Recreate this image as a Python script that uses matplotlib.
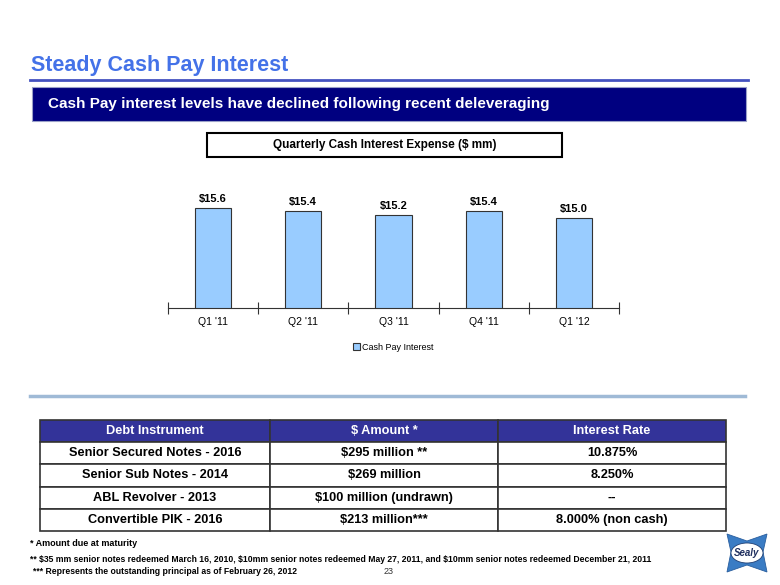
import matplotlib
matplotlib.use("Agg")
import matplotlib.pyplot as plt
from matplotlib.patches import Rectangle, Polygon, Ellipse

plt.rcParams['font.family'] = ['Liberation Sans', 'DejaVu Sans']

# chart data
quarters = ["Q1 '11", "Q2 '11", "Q3 '11", "Q4 '11", "Q1 '12"]
cash_interest = [15.6, 15.4, 15.2, 15.4, 15.0]
bar_labels = ["$15.6", "$15.4", "$15.2", "$15.4", "$15.0"]

# table data
col_labels = ["Debt Instrument", "$ Amount *", "Interest Rate"]
instruments = ["Senior Secured Notes - 2016", "Senior Sub Notes - 2014",
               "ABL Revolver - 2013", "Convertible PIK - 2016"]
amounts = ["$295 million **", "$269 million", "$100 million (undrawn)", "$213 million***"]
rates = ["10.875%", "8.250%", "--", "8.000% (non cash)"]

notes = ["* Amount due at maturity",
         "** $35 mm senior notes redeemed March 16, 2010, $10mm senior notes redeemed May 27, 2011, "
         "and $10mm senior notes redeemed December 21, 2011",
         "*** Represents the outstanding principal as of February 26, 2012"]

W, H = 780, 585
fig = plt.figure(figsize=(7.8, 5.85), dpi=100)


def box(x0, y0, x1, y1):
    # pixel box (top-left origin) -> figure fraction rect
    return [x0 / W, 1 - y1 / H, (x1 - x0) / W, (y1 - y0) / H]


# page decorations
bg = fig.add_axes([0, 0, 1, 1])
bg.set_xlim(0, W)
bg.set_ylim(H, 0)
bg.axis('off')

bg.text(31, 66, "Steady Cash Pay Interest", color="#4472E8", fontsize=15.5,
        fontweight='bold', va='center', ha='left')
bg.plot([30, 748], [80, 80], color="#4452C0", lw=2)
bg.add_patch(Rectangle((32, 87), 714, 34, facecolor="#000080", edgecolor="#9AA0C8", lw=0.8))
bg.text(48, 104, "Cash Pay interest levels have declined following recent deleveraging",
        color="white", fontsize=11, fontweight='bold', va='center', ha='left')
bg.add_patch(Rectangle((207, 133), 355, 24, facecolor="white", edgecolor="black", lw=1.5))
bg.text(384.5, 145, "Quarterly Cash Interest Expense ($ mm)", fontsize=8.5,
        fontweight='bold', va='center', ha='center')
bg.plot([30, 745], [396, 396], color="#9FBAD6", lw=2.5)

for i, t in enumerate(notes):
    bg.text(30 if i < 2 else 33, [544, 560, 571][i], t, fontsize=6.2 if i else 6.5,
            fontweight='bold', va='center', ha='left')
bg.text(389, 571, "23", fontsize=6.5, va='center', ha='center', color="#333333")

# logo (bow-tie with oval badge)
bg.add_patch(Polygon([(727, 534), (747, 541), (767, 534), (763, 552), (767, 572),
                      (747, 565), (727, 572), (731, 552)], closed=True,
                     facecolor="#3A7CC4", edgecolor="#2A5E9E", lw=0.6))
bg.add_patch(Ellipse((747, 553), 32, 20, facecolor="white", edgecolor="#1F3F73", lw=0.6))
bg.text(747, 553, "Sealy", color="#1F2F5F", fontsize=7, fontweight='bold', style='italic',
        ha='center', va='center')

# bar chart
ax = fig.add_axes(box(168, 185, 619, 307.7))
x = range(len(quarters))
bars = ax.bar(x, cash_interest, width=0.4, color="#99CCFF", edgecolor="#333333",
              lw=0.8, label="Cash Pay Interest")
ax.set_xlim(-0.5, len(quarters) - 0.5)
ax.set_ylim(9.55, 17.0)
for b, lab in zip(bars, bar_labels):
    ax.text(b.get_x() + b.get_width() / 2, b.get_height() + 0.25, lab, ha='center',
            va='bottom', fontsize=8, fontweight='bold')
for s in ['top', 'right', 'left']:
    ax.spines[s].set_visible(False)
ax.spines['bottom'].set_color("#333333")
ax.set_yticks([])
ax.set_xticks([i - 0.5 for i in range(len(quarters) + 1)], minor=False)
ax.set_xticklabels([])
ax.tick_params(axis='x', length=8, direction='inout', color="#333333")
ax.set_xticks(list(x), minor=True)
ax.set_xticklabels(quarters, minor=True, fontsize=7.5)
ax.tick_params(axis='x', which='minor', length=0, pad=7)
ax.legend(loc='upper center', bbox_to_anchor=(0.5, -0.22), frameon=False, fontsize=6.5,
          handlelength=0.7, handleheight=0.7, handletextpad=0.3)

# debt table
tax = fig.add_axes(box(40, 420, 726, 531))
tax.axis('off')
rows = [list(r) for r in zip(instruments, amounts, rates)]
tbl = tax.table(cellText=rows, colLabels=col_labels, cellLoc='center',
                bbox=[0, 0, 1, 1], colWidths=[230, 228, 228])
tbl.auto_set_font_size(False)
for (r, c), cell in tbl.get_celld().items():
    cell.set_edgecolor("#333333")
    cell.set_linewidth(1.2)
    cell.get_text().set_fontsize(9.2)
    cell.get_text().set_fontweight('bold')
    if r == 0:
        cell.set_facecolor("#333399")
        cell.get_text().set_color("white")

fig.savefig("out.png", dpi=100)
